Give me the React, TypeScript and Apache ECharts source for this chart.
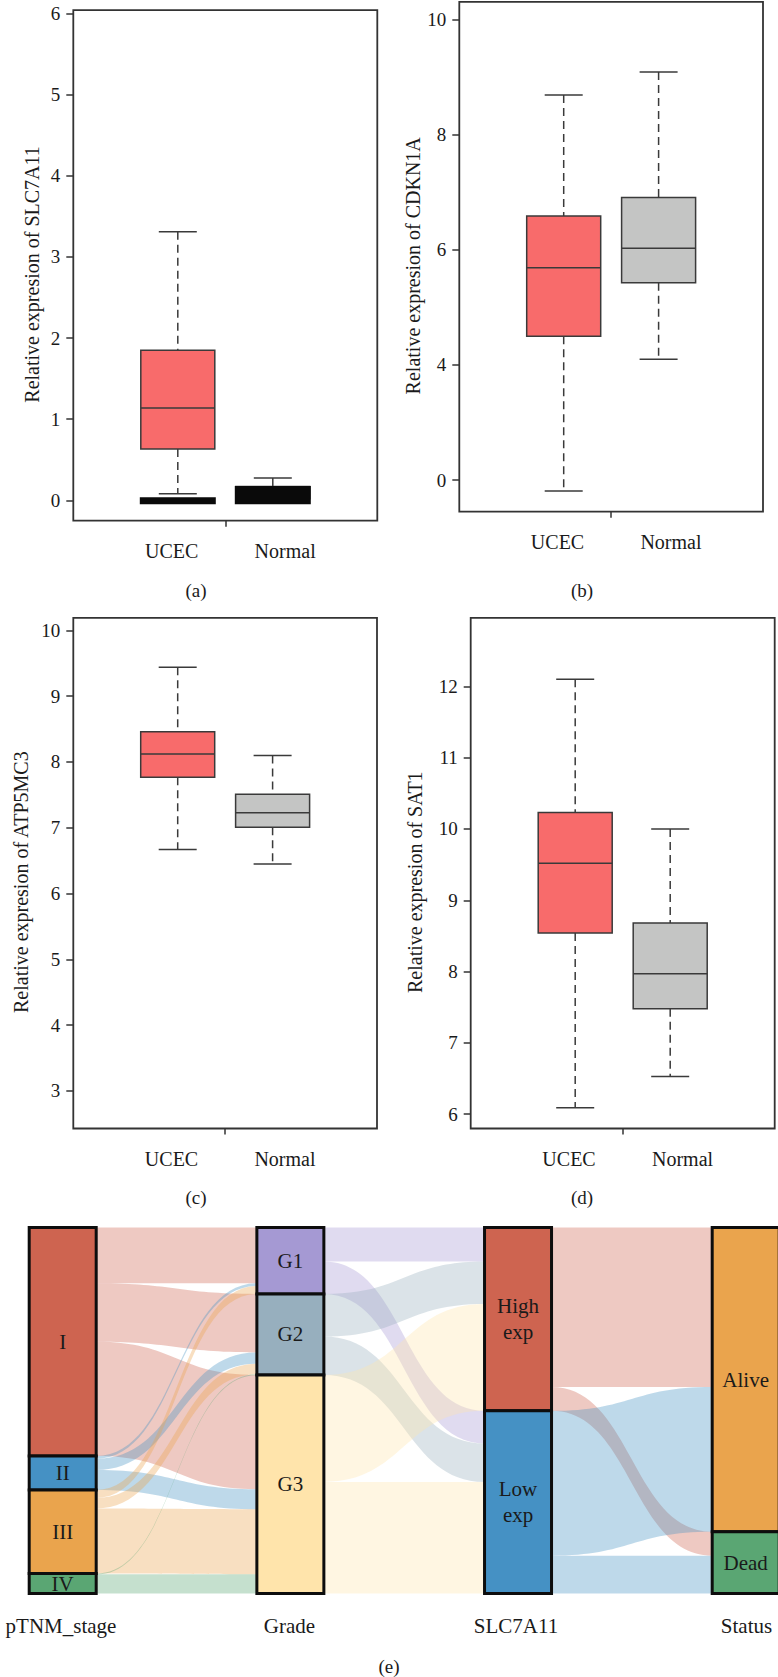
import React, { useEffect, useRef } from "react";
import * as echarts from "echarts";

// ---------- box plot data ----------
const groups = ["UCEC", "Normal"];
const groupAt = [1, 2];
const groupLabelAt = [0.935, 2.13];
const boxFill = ["#F86B6B", "#C4C5C4"];

// each box: [lower whisker, Q1, median, Q3, upper whisker]
const slc7a11Ucec = [0.083, 0.634, 1.14, 1.85, 3.31];
const slc7a11Normal = [0.0, 0.02, 0.09, 0.17, 0.276];
// dense near-zero samples, drawn as solid bands: [bottom, top]
const slc7a11UcecLow = [-0.048, 0.038];
const slc7a11NormalLow = [-0.048, 0.177];
const slc7a11Ticks = [0, 1, 2, 3, 4, 5, 6];
const slc7a11TickText = ["0", "1", "2", "3", "4", "5", "6"];

const cdkn1aUcec = [1.81, 4.5, 5.69, 6.59, 8.69];
const cdkn1aNormal = [4.1, 5.43, 6.03, 6.91, 9.09];
const cdkn1aTicks = [2, 4, 6, 8, 10];
const cdkn1aTickText = ["0", "4", "6", "8", "10"];

const atp5mc3Ucec = [6.67, 7.77, 8.12, 8.46, 9.44];
const atp5mc3Normal = [6.45, 7.01, 7.23, 7.51, 8.1];
const atp5mc3Ticks = [3, 4, 5, 6, 7, 8, 9, 10];
const atp5mc3TickText = ["3", "4", "5", "6", "7", "8", "9", "10"];

const sat1Ucec = [6.09, 8.54, 9.52, 10.23, 12.1];
const sat1Normal = [6.53, 7.48, 7.97, 8.68, 10.0];
const sat1Ticks = [6, 7, 8, 9, 10, 11, 12];
const sat1TickText = ["6", "7", "8", "9", "10", "11", "12"];

// ---------- alluvial data ----------
const stageNodes = ["I", "II", "III", "IV"];
const gradeNodes = ["G1", "G2", "G3"];
const exprNodes = ["High exp", "Low exp"];
const statusNodes = ["Alive", "Dead"];
const stageColors = ["#CE6450", "#4591C4", "#EAA44D", "#5AA673"];
const gradeColors = ["#A599D3", "#97AFBE", "#FFE4AB"];
const exprColors = ["#CE6450", "#4591C4"];
const statusColors = ["#EAA44D", "#5AA673"];
const axisTitles = ["pTNM_stage", "Grade", "SLC7A11", "Status"];

const stageToGrade: [string, string, number][] = [
  ["I", "G1", 84], ["I", "G2", 88], ["I", "G3", 172],
  ["II", "G1", 4], ["II", "G2", 17], ["II", "G3", 30],
  ["III", "G1", 12], ["III", "G2", 16], ["III", "G3", 98],
  ["IV", "G2", 1], ["IV", "G3", 29],
];
const gradeToExpr: [string, string, number][] = [
  ["G1", "High exp", 51], ["G1", "Low exp", 49],
  ["G2", "High exp", 64], ["G2", "Low exp", 58],
  ["G3", "High exp", 161], ["G3", "Low exp", 168],
];
const exprToStatus: [string, string, number][] = [
  ["High exp", "Alive", 240], ["High exp", "Dead", 36],
  ["Low exp", "Alive", 218], ["Low exp", "Dead", 57],
];

const SERIF = "'Liberation Serif', 'Times New Roman', serif";
const INK = "#1a1a1a";
const LINE = "#3a3a3a";

function renderBox(params: any, api: any) {
  const x = api.value(0);
  const lo = api.coord([x, api.value(1)]);
  const q1 = api.coord([x, api.value(2)]);
  const med = api.coord([x, api.value(3)]);
  const q3 = api.coord([x, api.value(4)]);
  const hi = api.coord([x, api.value(5)]);
  const fill = boxFill[api.value(6)];
  const cx = lo[0];
  const hw = 37;
  const cw = 19;
  const solid = { stroke: LINE, lineWidth: 1.5 };
  const dashed = { stroke: LINE, lineWidth: 1.5, lineDash: [8, 5] };
  return {
    type: "group",
    children: [
      { type: "line", shape: { x1: cx, y1: hi[1], x2: cx, y2: q3[1] }, style: dashed },
      { type: "line", shape: { x1: cx, y1: q1[1], x2: cx, y2: lo[1] }, style: dashed },
      { type: "line", shape: { x1: cx - cw, y1: hi[1], x2: cx + cw, y2: hi[1] }, style: solid },
      { type: "line", shape: { x1: cx - cw, y1: lo[1], x2: cx + cw, y2: lo[1] }, style: solid },
      {
        type: "rect",
        shape: { x: cx - hw, y: q3[1], width: hw * 2, height: q1[1] - q3[1] },
        style: { fill, stroke: LINE, lineWidth: 1.5 },
      },
      { type: "line", shape: { x1: cx - hw, y1: med[1], x2: cx + hw, y2: med[1] }, style: solid },
    ],
  };
}

function renderBand(params: any, api: any) {
  const x = api.value(0);
  const b = api.coord([x, api.value(1)]);
  const t = api.coord([x, api.value(2)]);
  const hw = 38;
  return {
    type: "rect",
    shape: { x: b[0] - hw, y: t[1], width: hw * 2, height: b[1] - t[1] },
    style: { fill: "#0a0a0a" },
  };
}

export default function App() {
  const ref = useRef<HTMLDivElement>(null);

  useEffect(() => {
    if (!ref.current) return;
    const chart = echarts.init(ref.current, undefined, { renderer: "svg" });

    const panels = [
      { gene: "SLC7A11", boxes: [slc7a11Ucec, slc7a11Normal], ticks: slc7a11Ticks, text: slc7a11TickText,
        min: -0.25, max: 6.04, grid: { left: 73.3, top: 10.2, width: 304, height: 510.5 }, gap: 31 },
      { gene: "CDKN1A", boxes: [cdkn1aUcec, cdkn1aNormal], ticks: cdkn1aTicks, text: cdkn1aTickText,
        min: 1.45, max: 10.31, grid: { left: 459.3, top: 1.9, width: 303.7, height: 509.8 }, gap: 36 },
      { gene: "ATP5MC3", boxes: [atp5mc3Ucec, atp5mc3Normal], ticks: atp5mc3Ticks, text: atp5mc3TickText,
        min: 2.43, max: 10.19, grid: { left: 73.3, top: 617.9, width: 303.7, height: 510.6 }, gap: 42 },
      { gene: "SAT1", boxes: [sat1Ucec, sat1Normal], ticks: sat1Ticks, text: sat1TickText,
        min: 5.8, max: 12.96, grid: { left: 470.7, top: 617.9, width: 304, height: 510.6 }, gap: 46 },
    ];

    const grids = panels.map((p) => ({
      ...p.grid,
      show: true,
      borderColor: "#333",
      borderWidth: 1.8,
      backgroundColor: "transparent",
      containLabel: false,
    }));

    const xAxes = panels.map((p, i) => ({
      type: "value",
      gridIndex: i,
      position: "bottom",
      min: -0.1,
      max: 3.1,
      axisLine: { show: false, onZero: false },
      splitLine: { show: false },
      axisTick: { show: true, customValues: [1.5], length: 6, lineStyle: { color: "#333", width: 1.5 } },
      axisLabel: {
        customValues: groupLabelAt,
        formatter: (v: number) => {
          const k = groupLabelAt.findIndex((g) => Math.abs(g - v) < 1e-6);
          return k >= 0 ? groups[k] : "";
        },
        margin: 20,
        fontFamily: SERIF,
        fontSize: 20,
        color: INK,
      },
    }));

    const yAxes = panels.map((p, i) => ({
      type: "value",
      gridIndex: i,
      position: "left",
      min: p.min,
      max: p.max,
      name: "Relative expresion of " + p.gene,
      nameLocation: "middle",
      nameGap: p.gap,
      nameTextStyle: { fontFamily: SERIF, fontSize: 20, color: INK, padding: [0, 18, 0, 0] },
      axisLine: { show: false, onZero: false },
      splitLine: { show: false },
      axisTick: { show: true, customValues: p.ticks, length: 7, lineStyle: { color: "#333", width: 1.5 } },
      axisLabel: {
        customValues: p.ticks,
        formatter: (v: number) => {
          const k = p.ticks.findIndex((t) => Math.abs(t - v) < 1e-6);
          return k >= 0 ? p.text[k] : "";
        },
        margin: 13,
        fontFamily: SERIF,
        fontSize: 19,
        color: INK,
      },
    }));

    const boxSeries = panels.map((p, i) => ({
      type: "custom",
      xAxisIndex: i,
      yAxisIndex: i,
      renderItem: renderBox,
      encode: { x: 0, y: [1, 2, 3, 4, 5] },
      data: p.boxes.map((b, k) => [groupAt[k], ...b, k]),
      silent: true,
      z: 2,
    }));

    const bandSeries = {
      type: "custom",
      xAxisIndex: 0,
      yAxisIndex: 0,
      renderItem: renderBand,
      encode: { x: 0, y: [1, 2] },
      data: [
        [groupAt[0], ...slc7a11UcecLow],
        [groupAt[1], ...slc7a11NormalLow],
      ],
      silent: true,
      z: 3,
    };

    const nodeStyle = (color: string) => ({ color, borderColor: "#0d0d0d", borderWidth: 3 });
    const nodes = [
      ...stageNodes.map((n, i) => ({ name: n, itemStyle: nodeStyle(stageColors[i]) })),
      ...gradeNodes.map((n, i) => ({ name: n, itemStyle: nodeStyle(gradeColors[i]) })),
      ...exprNodes.map((n, i) => ({ name: n, itemStyle: nodeStyle(exprColors[i]) })),
      ...statusNodes.map((n, i) => ({ name: n, itemStyle: nodeStyle(statusColors[i]) })),
    ];
    const links = [...stageToGrade, ...gradeToExpr, ...exprToStatus].map(([s, t, v]) => ({
      source: s,
      target: t,
      value: v,
    }));

    const sankey = {
      type: "sankey",
      left: 29.2,
      top: 1227.5,
      width: 750,
      height: 366,
      nodeWidth: 67,
      nodeGap: 0,
      layoutIterations: 0,
      draggable: false,
      data: nodes,
      links,
      lineStyle: { color: "source", opacity: 0.35, curveness: 0.5 },
      label: {
        position: "inside",
        fontFamily: SERIF,
        fontSize: 21,
        color: INK,
        lineHeight: 26,
        formatter: (p: any) => String(p.name).replace(" ", "\n"),
      },
      emphasis: { disabled: true },
      silent: true,
      z: 2,
    };

    const colCenters = [61, 289.5, 516, 746.5];
    const captions = [
      { t: "(a)", x: 196, y: 590 },
      { t: "(b)", x: 582, y: 590 },
      { t: "(c)", x: 196, y: 1197 },
      { t: "(d)", x: 582, y: 1197 },
      { t: "(e)", x: 389, y: 1666 },
    ];
    const graphic = [
      ...axisTitles.map((t, i) => ({
        type: "text",
        x: colCenters[i],
        y: 1626,
        style: { text: t, fontFamily: SERIF, fontSize: 21, fill: INK, align: "center", verticalAlign: "middle" },
      })),
      ...captions.map((c) => ({
        type: "text",
        x: c.x,
        y: c.y,
        style: { text: c.t, fontFamily: SERIF, fontSize: 19, fill: INK, align: "center", verticalAlign: "middle" },
      })),
    ];

    chart.setOption({
      animation: false,
      backgroundColor: "#ffffff",
      grid: grids,
      xAxis: xAxes,
      yAxis: yAxes,
      series: [...boxSeries, bandSeries, sankey],
      graphic,
    });

    return () => chart.dispose();
  }, []);

  return (
    <div
      ref={ref}
      style={{ position: "absolute", left: 0, top: 0, width: 778, height: 1677, background: "#fff" }}
    />
  );
}
